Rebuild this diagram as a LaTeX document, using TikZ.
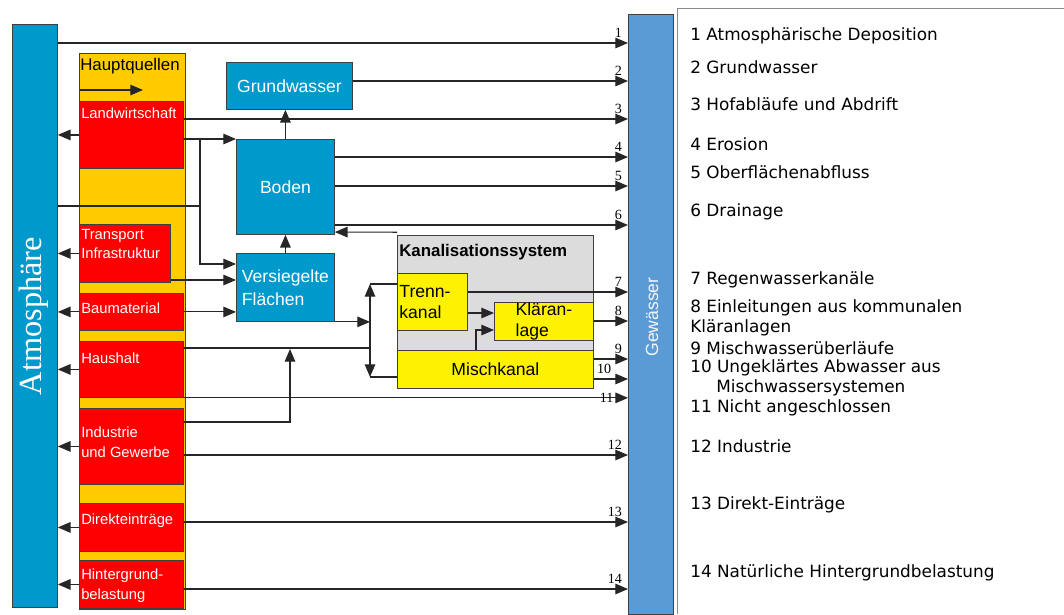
\documentclass[tikz,border=0pt]{standalone}
\usepackage{fontspec}
\setmainfont{Liberation Sans}
\newfontfamily\legfont{DejaVu Sans}
\newfontfamily\numfont{Liberation Serif}
\usetikzlibrary{arrows.meta}

\definecolor{atmblue}{HTML}{0099CC}
\definecolor{gewblue}{HTML}{5B9BD5}
\definecolor{hqyellow}{HTML}{FFCC00}
\definecolor{kanalgray}{HTML}{DCDCDC}

\begin{document}
\begin{tikzpicture}[x=0.025cm, y=-0.025cm,
    >={Triangle[length=9pt,width=7.5pt]},
    flow/.style={line width=.8pt, draw=black!85},
    box/.style={draw=black!75, line width=.6pt, anchor=north west, inner sep=0pt},
    quelle/.style={box, fill=red},
    qtext/.style={anchor=west, align=left, text=white, inner sep=0pt, font=\fontsize{10.5}{14}\selectfont},
    medium/.style={box, fill=atmblue, text=white, align=left, font=\fontsize{12.5}{16.4}\selectfont},
    kbox/.style={box, fill=yellow, align=left, font=\fontsize{12.5}{15}\selectfont},
    num/.style={anchor=south east, inner sep=1pt, xshift=-3pt, yshift=2.5pt, font=\numfont\fontsize{10}{12}\selectfont},
    legend/.style={anchor=west, inner sep=0pt, font=\legfont\fontsize{12}{14}\selectfont}
]
\useasboundingbox (0,0) rectangle (1064,614);

    % Atmosphaere and Gewaesser
    \node[box, fill=atmblue, minimum width=1.125cm, minimum height=14.575cm] (atm) at (12,24) {};
    \node[rotate=90, text=white, font=\numfont\fontsize{23}{25}\selectfont] (atm-t) at (34,316) {Atmosphäre};
    \node[box, fill=gewblue, minimum width=1.125cm, minimum height=15cm] (gew) at (628,14) {};
    \node[rotate=90, text=white!92!gewblue, font=\fontsize{12.5}{14}\selectfont] (gew-t) at (652,317) {Gewässer};

    % Hauptquellen
    \node[box, fill=hqyellow, minimum width=2.65cm, minimum height=13.9cm] (hq) at (79,53) {};
    \node[anchor=west, inner sep=0pt, font=\fontsize{12}{14}\selectfont] (hq-t) at (80,66) {Hauptquellen};
    \coordinate (hq-a) at (80,90);
    \coordinate (hq-b) at (143,90);
    \draw[flow, ->] (hq-a) -- (hq-b);
    \foreach \name/\top/\w/\h/\ty/\txt in {
        lw/101/2.6/1.675/113/Landwirtschaft,
        trans/224/2.275/1.45/244/{Transport\\Infrastruktur},
        bau/293/2.6/0.925/308/Baumaterial,
        haus/341/2.6/1.4/358/Haushalt,
        ind/408/2.6/1.9/442/{Industrie\\und Gewerbe},
        dir/503/2.6/1.2/521/Direkteinträge,
        hint/560/2.6/1.2/586/{Hintergrund-\\belastung}} {
        \node[quelle, minimum width=\w cm, minimum height=\h cm] (\name) at (79,\top) {};
        \node[qtext] (\name-t) at (81,\ty) {\txt};
    }

    % Boden, Grundwasser, Versiegelte Flaechen
    \node[medium, minimum width=3.15cm, minimum height=1.175cm] (gw) at (226,62) {Grundwasser};
    \node[medium, minimum width=2.45cm, minimum height=2.375cm] (boden) at (236,139) {Boden};
    \node[medium, minimum width=2.45cm, minimum height=1.7cm] (vers) at (236,253) {Versiegelte\\Flächen};

    % Kanalisationssystem
    \node[box, fill=kanalgray, minimum width=4.9cm, minimum height=2.875cm] (kanal) at (397,235) {};
    \node[anchor=west, inner sep=0pt, font=\bfseries\fontsize{12}{14}\selectfont] (kanal-t) at (399,252) {Kanalisationssystem};
    \node[kbox, text width=1.65cm, minimum width=1.75cm, minimum height=1.425cm] (trenn) at (397,273) {Trenn-\\kanal};
    \node[kbox, minimum width=2.475cm, minimum height=0.95cm] (klaer) at (494,302) {Kläran-\\lage};
    \node[kbox, minimum width=4.9cm, minimum height=0.95cm] (misch) at (397,350) {Mischkanal};

    % Arrows into the Atmosphaere
    \foreach \q in {lw,trans,bau,haus,ind,dir,hint} {
        \draw[flow, ->] (\q.west) -- (atm.east |- \q.west);
    }

    % Paths inside
    \coordinate (lw-split) at (200,139);
    \draw[flow, ->] (lw.east |- boden.north west) -- (boden.north west);
    \draw[flow] (atm.east |- 0,206) -- (lw-split |- 0,206);
    \draw[flow, ->] (lw-split) |- (vers.west |- 0,264);
    \draw[flow, ->] (boden.north) -- (boden.north |- gw.south);
    \draw[flow, ->] (vers.north) -- (boden.south);
    \draw[flow, ->] (trans.east |- 0,280) -- (vers.west |- 0,280);
    \draw[flow, ->] (bau.east) -- (vers.west |- bau.east);
    \draw[flow, ->] ([yshift=2pt]kanal.north west) -- ([yshift=2pt]boden.south east);
    \coordinate (kan-top) at (370,284);
    \coordinate (kan-bot) at (370,377);
    \coordinate (haus-join) at (290,349);
    \draw[flow, <->] (kan-top) -- (kan-bot);
    \draw[flow] (kan-top) -- (trenn.west |- kan-top);
    \draw[flow] (kan-bot) -- (misch.west |- kan-bot);
    \draw[flow, ->] (vers.south east) -- (kan-top |- vers.south east);
    \draw[flow] (haus.east |- 0,348) -- (kan-top |- 0,348);
    \draw[flow, ->] (ind.east |- 0,422) -| (haus-join);
    \draw[flow, ->] (trenn.east |- 0,313) -- (klaer.west |- 0,313);
    \draw[flow, ->] (misch.north -| 476,0) |- (klaer.west |- 0,330);

    % Eintragspfade 1-14
    \foreach \n/\src/\y in {1/atm/43, 2/gw/81, 3/lw/119, 4/boden/157, 5/boden/186,
        6/boden/225, 7/trenn/292, 8/klaer/321, 9/misch/359, 12/ind/455, 13/dir/522, 14/hint/589} {
        \draw[flow, ->] (\src.east |- 0,\y) -- (gew.west |- 0,\y) node[num] (num-\n) {\n};
    }
    \draw[flow, ->] (misch.east |- 0,379) -- (gew.west |- 0,379) node[num, xshift=-7.5pt] (num-10) {10};
    \draw[flow, ->] (haus.south east) -- (gew.west |- haus.south east) node[num, anchor=east, xshift=-6pt, yshift=-2.5pt] (num-11) {11};

    % Legende
    \draw[black!45] (1064,8) -- (677,8) -- (677,614);
    \foreach \x/\y/\txt [count=\i] in {
        690/36/1 Atmosphärische Deposition,
        690/67/2 Grundwasser,
        690/104/3 Hofabläufe und Abdrift,
        690/144/4 Erosion,
        690/172/5 Oberflächenabfluss,
        690/212/6 Drainage,
        690/280/7 Regenwasserkanäle,
        690/308/8 Einleitungen aus kommunalen,
        690/328/Kläranlagen,
        690/348/9 Mischwasserüberläufe,
        690/368/10 Ungeklärtes Abwasser aus,
        716/388/Mischwassersystemen,
        690/408/11 Nicht angeschlossen,
        690/446/12 Industrie,
        690/505/13 Direkt-Einträge,
        690/573/14 Natürliche Hintergrundbelastung} {
        \node[legend] (leg-\i) at (\x,\y) {\txt};
    }
\end{tikzpicture}
\end{document}
